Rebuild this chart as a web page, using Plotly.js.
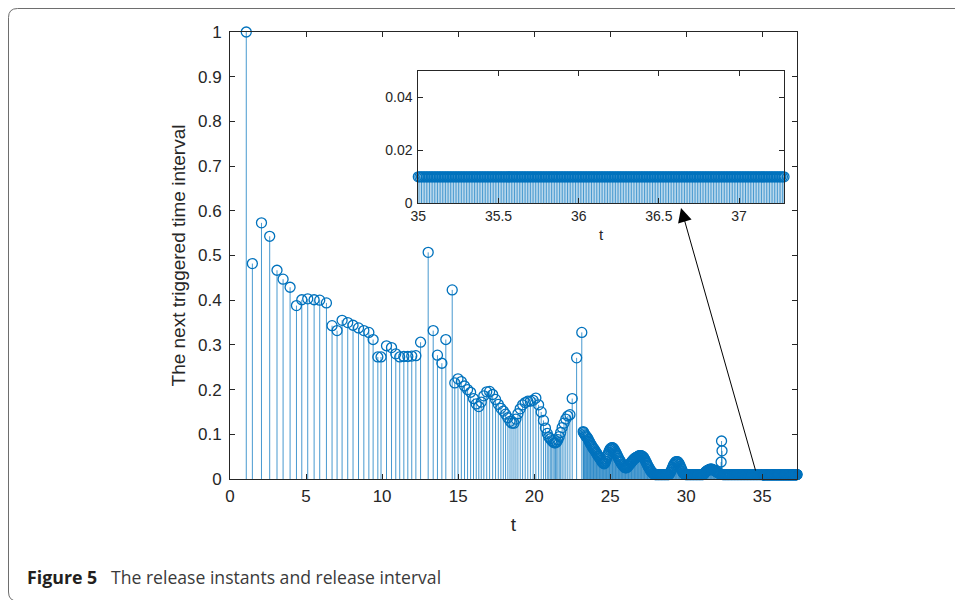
<!DOCTYPE html>
<html>
<head>
<meta charset="utf-8">
<script src="https://cdn.plot.ly/plotly-3.0.1.min.js"></script>
<style>
html,body{margin:0;padding:0;background:#fff;}
#chart{width:955px;height:600px;}
</style>
</head>
<body>
<div id="chart"></div>
<script>
// ---- data (release instants t and next triggered interval) ----
const sparseT = [
  1.07,1.47,2.07,2.61,3.09,3.49,3.95,4.37,4.72,5.11,
  5.53,5.90,6.34,6.71,7.04,7.37,7.74,8.09,8.45,8.80,
  9.13,9.41,9.72,9.93,10.29,10.62,10.90,11.16,11.43,11.69,
  11.95,12.22,12.53,13.03,13.36,13.64,13.93,14.19,14.61,14.78,
  14.99,15.21,15.42,15.62,15.82,16.01,16.19,16.36,16.52,16.69,
  16.88,17.07,17.27,17.46,17.64,17.81,17.97,18.12,18.27,18.41,
  18.54,18.67,18.80,18.93,19.08,19.24,19.41,19.58,19.75,19.93,
  20.11,20.29,20.46,20.61,20.74,20.86,20.96,21.06,21.15,21.24,
  21.32,21.40,21.48,21.56,21.65,21.74,21.84,21.96,22.08,22.21,
  22.35,22.50,22.79,23.13,23.22
];
const sparseV = [
  1.000,0.482,0.573,0.543,0.467,0.447,0.429,0.388,0.401,0.403,
  0.401,0.400,0.394,0.343,0.332,0.355,0.350,0.344,0.338,0.332,
  0.328,0.312,0.273,0.273,0.298,0.294,0.280,0.273,0.274,0.274,
  0.275,0.276,0.306,0.507,0.332,0.277,0.259,0.312,0.423,0.215,
  0.224,0.218,0.208,0.200,0.194,0.180,0.168,0.162,0.172,0.186,
  0.195,0.196,0.189,0.178,0.167,0.158,0.152,0.145,0.137,0.129,
  0.125,0.125,0.134,0.146,0.157,0.166,0.171,0.174,0.174,0.176,
  0.181,0.166,0.150,0.131,0.114,0.102,0.094,0.090,0.086,0.083,
  0.081,0.081,0.083,0.088,0.095,0.104,0.115,0.125,0.134,0.141,
  0.144,0.180,0.271,0.328,0.106
];
const denseT = [
  23.25,23.3,23.35,23.4,23.45,23.5,23.55,23.6,23.65,23.7,
  23.75,23.8,23.85,23.9,23.95,24,24.05,24.1,24.15,24.2,
  24.25,24.3,24.35,24.4,24.45,24.5,24.55,24.6,24.65,24.7,
  24.75,24.8,24.85,24.9,24.95,25,25.05,25.1,25.15,25.2,
  25.25,25.3,25.35,25.4,25.45,25.5,25.55,25.6,25.65,25.7,
  25.75,25.8,25.85,25.9,25.95,26,26.05,26.1,26.15,26.2,
  26.25,26.3,26.35,26.4,26.45,26.5,26.55,26.6,26.65,26.7,
  26.75,26.8,26.85,26.9,26.95,27,27.05,27.1,27.15,27.2,
  27.25,27.3,27.35,27.4,27.45,27.5,27.55,27.6,27.65,27.7,
  27.75,27.8,27.85,27.9,27.95,28,28.05,28.1,28.15,28.2,
  28.25,28.3,28.35,28.4,28.45,28.5,28.55,28.6,28.65,28.7,
  28.75,28.8,28.85,28.9,28.95,29,29.05,29.1,29.15,29.2,
  29.25,29.3,29.35,29.4,29.45,29.5,29.55,29.6,29.65,29.7,
  29.75,29.8,29.85,29.9,29.95,30,30.05,30.1,30.15,30.2,
  30.25,30.3,30.35,30.4,30.45,30.5,30.55,30.6,30.65,30.7,
  30.75,30.8,30.85,30.9,30.95,31,31.05,31.1,31.15,31.2,
  31.25,31.3,31.35,31.4,31.45,31.5,31.55,31.6,31.65,31.7,
  31.75,31.8,31.85,31.9,31.95,32,32.05,32.1,32.15,32.2,
  32.25,32.29,32.32,32.35,32.4,32.45,32.5,32.55,32.6,32.65,
  32.7,32.75,32.8,32.85,32.9,32.95,33,33.05,33.1,33.15,
  33.2,33.25,33.3,33.35,33.4,33.45,33.5,33.55,33.6,33.65,
  33.7,33.75,33.8,33.85,33.9,33.95,34,34.05,34.1,34.15,
  34.2,34.25,34.3,34.35,34.4,34.45,34.5,34.55,34.6,34.65,
  34.7,34.75,34.8,34.85,34.9,34.95
];
const denseV = [
  0.104,0.101,0.098,0.096,0.094,0.092,0.089,0.085,0.082,0.079,
  0.076,0.073,0.070,0.068,0.066,0.063,0.060,0.058,0.055,0.052,
  0.050,0.047,0.045,0.042,0.039,0.037,0.035,0.034,0.036,0.040,
  0.045,0.050,0.055,0.060,0.064,0.067,0.069,0.070,0.070,0.069,
  0.066,0.063,0.060,0.057,0.053,0.050,0.046,0.043,0.040,0.037,
  0.034,0.032,0.030,0.028,0.026,0.025,0.025,0.026,0.028,0.030,
  0.032,0.034,0.036,0.038,0.040,0.042,0.044,0.046,0.047,0.048,
  0.049,0.050,0.051,0.052,0.052,0.052,0.052,0.051,0.050,0.048,
  0.045,0.042,0.038,0.035,0.031,0.028,0.025,0.022,0.019,0.017,
  0.015,0.013,0.012,0.011,0.010,0.010,0.010,0.010,0.010,0.010,
  0.010,0.010,0.010,0.010,0.010,0.010,0.010,0.010,0.010,0.010,
  0.010,0.010,0.010,0.012,0.015,0.018,0.022,0.026,0.030,0.033,
  0.036,0.038,0.039,0.039,0.038,0.036,0.033,0.029,0.025,0.021,
  0.017,0.014,0.012,0.011,0.010,0.010,0.010,0.010,0.010,0.010,
  0.010,0.010,0.010,0.010,0.010,0.010,0.010,0.010,0.010,0.010,
  0.010,0.010,0.010,0.010,0.010,0.010,0.010,0.010,0.011,0.013,
  0.015,0.017,0.018,0.019,0.020,0.021,0.022,0.022,0.022,0.022,
  0.021,0.020,0.019,0.018,0.017,0.016,0.015,0.014,0.013,0.012,
  0.011,0.038,0.085,0.063,0.010,0.010,0.010,0.010,0.010,0.010,
  0.010,0.010,0.010,0.010,0.010,0.010,0.010,0.010,0.010,0.010,
  0.010,0.010,0.010,0.010,0.010,0.010,0.010,0.010,0.010,0.010,
  0.010,0.010,0.010,0.010,0.010,0.010,0.010,0.010,0.010,0.010,
  0.010,0.010,0.010,0.010,0.010,0.010,0.010,0.010,0.010,0.010,
  0.010,0.010,0.010,0.010,0.010,0.010
];
const tailT = [
  35,35.01,35.02,35.03,35.04,35.05,35.06,35.07,35.08,35.09,
  35.1,35.11,35.12,35.13,35.14,35.15,35.16,35.17,35.18,35.19,
  35.2,35.21,35.22,35.23,35.24,35.25,35.26,35.27,35.28,35.29,
  35.3,35.31,35.32,35.33,35.34,35.35,35.36,35.37,35.38,35.39,
  35.4,35.41,35.42,35.43,35.44,35.45,35.46,35.47,35.48,35.49,
  35.5,35.51,35.52,35.53,35.54,35.55,35.56,35.57,35.58,35.59,
  35.6,35.61,35.62,35.63,35.64,35.65,35.66,35.67,35.68,35.69,
  35.7,35.71,35.72,35.73,35.74,35.75,35.76,35.77,35.78,35.79,
  35.8,35.81,35.82,35.83,35.84,35.85,35.86,35.87,35.88,35.89,
  35.9,35.91,35.92,35.93,35.94,35.95,35.96,35.97,35.98,35.99,
  36,36.01,36.02,36.03,36.04,36.05,36.06,36.07,36.08,36.09,
  36.1,36.11,36.12,36.13,36.14,36.15,36.16,36.17,36.18,36.19,
  36.2,36.21,36.22,36.23,36.24,36.25,36.26,36.27,36.28,36.29,
  36.3,36.31,36.32,36.33,36.34,36.35,36.36,36.37,36.38,36.39,
  36.4,36.41,36.42,36.43,36.44,36.45,36.46,36.47,36.48,36.49,
  36.5,36.51,36.52,36.53,36.54,36.55,36.56,36.57,36.58,36.59,
  36.6,36.61,36.62,36.63,36.64,36.65,36.66,36.67,36.68,36.69,
  36.7,36.71,36.72,36.73,36.74,36.75,36.76,36.77,36.78,36.79,
  36.8,36.81,36.82,36.83,36.84,36.85,36.86,36.87,36.88,36.89,
  36.9,36.91,36.92,36.93,36.94,36.95,36.96,36.97,36.98,36.99,
  37,37.01,37.02,37.03,37.04,37.05,37.06,37.07,37.08,37.09,
  37.1,37.11,37.12,37.13,37.14,37.15,37.16,37.17,37.18,37.19,
  37.2,37.21,37.22,37.23,37.24,37.25,37.26,37.27,37.28
];
const tailV = [
  0.01,0.01,0.01,0.01,0.01,0.01,0.01,0.01,0.01,0.01,
  0.01,0.01,0.01,0.01,0.01,0.01,0.01,0.01,0.01,0.01,
  0.01,0.01,0.01,0.01,0.01,0.01,0.01,0.01,0.01,0.01,
  0.01,0.01,0.01,0.01,0.01,0.01,0.01,0.01,0.01,0.01,
  0.01,0.01,0.01,0.01,0.01,0.01,0.01,0.01,0.01,0.01,
  0.01,0.01,0.01,0.01,0.01,0.01,0.01,0.01,0.01,0.01,
  0.01,0.01,0.01,0.01,0.01,0.01,0.01,0.01,0.01,0.01,
  0.01,0.01,0.01,0.01,0.01,0.01,0.01,0.01,0.01,0.01,
  0.01,0.01,0.01,0.01,0.01,0.01,0.01,0.01,0.01,0.01,
  0.01,0.01,0.01,0.01,0.01,0.01,0.01,0.01,0.01,0.01,
  0.01,0.01,0.01,0.01,0.01,0.01,0.01,0.01,0.01,0.01,
  0.01,0.01,0.01,0.01,0.01,0.01,0.01,0.01,0.01,0.01,
  0.01,0.01,0.01,0.01,0.01,0.01,0.01,0.01,0.01,0.01,
  0.01,0.01,0.01,0.01,0.01,0.01,0.01,0.01,0.01,0.01,
  0.01,0.01,0.01,0.01,0.01,0.01,0.01,0.01,0.01,0.01,
  0.01,0.01,0.01,0.01,0.01,0.01,0.01,0.01,0.01,0.01,
  0.01,0.01,0.01,0.01,0.01,0.01,0.01,0.01,0.01,0.01,
  0.01,0.01,0.01,0.01,0.01,0.01,0.01,0.01,0.01,0.01,
  0.01,0.01,0.01,0.01,0.01,0.01,0.01,0.01,0.01,0.01,
  0.01,0.01,0.01,0.01,0.01,0.01,0.01,0.01,0.01,0.01,
  0.01,0.01,0.01,0.01,0.01,0.01,0.01,0.01,0.01,0.01,
  0.01,0.01,0.01,0.01,0.01,0.01,0.01,0.01,0.01,0.01,
  0.01,0.01,0.01,0.01,0.01,0.01,0.01,0.01,0.01
];
const mainXTicks = [0,5,10,15,20,25,30,35];
const insetXTicks = [35,35.5,36,36.5,37];
const insetYTicks = [0,0.02,0.04];
const yLabel = 'The next triggered time interval';
const xLabel = 't';
const captionBold = 'Figure 5';
const captionText = 'The release instants and release interval';

// ---- build traces ----
const allT = sparseT.concat(denseT, tailT);
const allV = sparseV.concat(denseV, tailV);
const BLUE = '#0072BD';
const STEM = 'rgba(0,114,189,0.72)';

function stems(ts, vs) {
  const x = [], y = [];
  for (let i = 0; i < ts.length; i++) { x.push(ts[i], ts[i], null); y.push(0, vs[i], null); }
  return {x, y};
}
const sMain = stems(allT, allV);
const sInset = stems(tailT, tailV);

const traces = [
  {type:'scatter', mode:'lines', x:sMain.x, y:sMain.y, xaxis:'x', yaxis:'y',
   line:{color:STEM, width:1}, hoverinfo:'skip', connectgaps:false},
  {type:'scatter', mode:'markers', x:allT, y:allV, xaxis:'x', yaxis:'y', cliponaxis:false,
   marker:{symbol:'circle-open', size:10, color:BLUE, line:{width:1.3, color:BLUE}}},
  {type:'scatter', mode:'lines', x:sInset.x, y:sInset.y, xaxis:'x2', yaxis:'y2',
   line:{color:STEM, width:1}, hoverinfo:'skip', connectgaps:false},
  {type:'scatter', mode:'markers', x:tailT, y:tailV, xaxis:'x2', yaxis:'y2', cliponaxis:false,
   marker:{symbol:'circle-open', size:10, color:BLUE, line:{width:1.3, color:BLUE}}}
];

// ---- layout helpers (pixel -> paper) ----
const L = 230, R = 797, T = 32, B = 479;
const W = R - L, H = B - T;
const PX = p => (p - L) / W;
const PY = p => (B - p) / H;

const FONT = 'Liberation Sans, Arial, sans-serif';
const axisCommon = {
  ticks:'inside', ticklen:5, tickwidth:1, tickcolor:'#262626',
  showline:true, linecolor:'#262626', linewidth:1, mirror:'ticks',
  showgrid:false, zeroline:false, automargin:false,
  tickfont:{family:FONT, size:17, color:'#262626'}
};

const r = 9;
const fx0 = 8.5, fy0 = 8.5, fx1 = 965, fy1 = 601;
const framePath = 'M ' + PX(fx1) + ',' + PY(fy1) +
  ' L ' + PX(fx0 + r) + ',' + PY(fy1) +
  ' Q ' + PX(fx0) + ',' + PY(fy1) + ' ' + PX(fx0) + ',' + PY(fy1 - r) +
  ' L ' + PX(fx0) + ',' + PY(fy0 + r) +
  ' Q ' + PX(fx0) + ',' + PY(fy0) + ' ' + PX(fx0 + r) + ',' + PY(fy0) +
  ' L ' + PX(fx1) + ',' + PY(fy0);

const layout = {
  width:955, height:600,
  margin:{l:L, r:955 - R, t:T, b:600 - B, pad:0},
  paper_bgcolor:'#ffffff', plot_bgcolor:'#ffffff',
  showlegend:false,
  font:{family:FONT, color:'#262626'},
  xaxis:Object.assign({}, axisCommon, {
    range:[0, 37.28], tickvals:mainXTicks, anchor:'y', ticklabelstandoff:2,
    title:{text:xLabel, font:{size:19, color:'#262626'}, standoff:12}
  }),
  yaxis:Object.assign({}, axisCommon, {
    range:[0, 1], tick0:0, dtick:0.1, anchor:'x', ticklabelstandoff:4,
    title:{text:yLabel, font:{size:19, color:'#262626'}, standoff:7}
  }),
  xaxis2:Object.assign({}, axisCommon, {
    domain:[PX(418.3), PX(784)], anchor:'y2', range:[35, 37.28], tickvals:insetXTicks,
    tickfont:{family:FONT, size:14, color:'#262626'},
    title:{text:xLabel, font:{size:15, color:'#262626'}, standoff:6}
  }),
  yaxis2:Object.assign({}, axisCommon, {
    domain:[PY(203.3), PY(71)], anchor:'x2', range:[0, 0.05], tickvals:insetYTicks,
    tickfont:{family:FONT, size:14, color:'#262626'}, ticklabelstandoff:2
  }),
  shapes:[
    {type:'path', xref:'paper', yref:'paper', path:framePath, line:{color:'#6e6e6e', width:1}}
  ],
  annotations:[
    {xref:'paper', yref:'paper', x:PX(681), y:PY(208), text:'', showarrow:true,
     axref:'pixel', ayref:'pixel', ax:75, ay:264,
     arrowhead:2, arrowsize:2.8, arrowwidth:1, arrowcolor:'#000000', standoff:0, startstandoff:0},
    {xref:'paper', yref:'paper', x:PX(25), y:PY(577), xanchor:'left', yanchor:'middle',
     text:'<b>' + captionBold + '</b>', showarrow:false,
     font:{family:'Open Sans, Noto Sans, sans-serif', size:17.8, color:'#231f20'}},
    {xref:'paper', yref:'paper', x:PX(109), y:PY(577), xanchor:'left', yanchor:'middle',
     text:captionText, showarrow:false,
     font:{family:'Open Sans, Noto Sans, sans-serif', size:17.6, color:'#3a3a3a'}}
  ]
};

Plotly.newPlot('chart', traces, layout, {staticPlot:true, displayModeBar:false});
</script>
</body>
</html>
